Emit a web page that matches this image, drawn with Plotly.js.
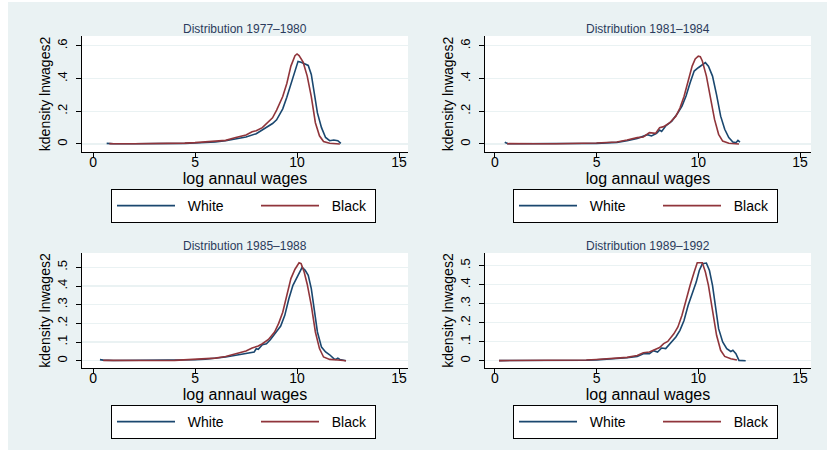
<!DOCTYPE html>
<html>
<head>
<meta charset="utf-8">
<script src="https://cdn.plot.ly/plotly-3.0.1.min.js"></script>
<style>html,body{margin:0;padding:0;background:#fff;}#chart{width:827px;height:455px;}</style>
</head>
<body>
<div id="chart"></div>
<script>
// ---------- Data ----------
const panelTitles = ["Distribution 1977–1980", "Distribution 1981–1984", "Distribution 1985–1988", "Distribution 1989–1992"];
const seriesNames = ["White", "Black"];
const xTickVals = [0, 5, 10, 15];
const xTickText = ["0", "5", "10", "15"];
const yTickValsTop = [0, 0.2, 0.4, 0.6];
const yTickTextTop = ["0", ".2", ".4", ".6"];
const yTickValsBottom = [0, 0.1, 0.2, 0.3, 0.4, 0.5];
const yTickTextBottom = ["0", ".1", ".2", ".3", ".4", ".5"];
const xTitle = "log annaul wages";
const yTitle = "kdensity lnwages2";

// 1977-1980
const white7780_x = [0.67, 1, 2, 3, 4, 4.5, 5, 5.5, 6, 6.5, 7, 7.5, 8, 8.5, 8.8, 9, 9.3, 9.5, 9.7, 9.9, 10.05, 10.2, 10.4, 10.55, 10.7, 10.85, 11.0, 11.2, 11.4, 11.6, 11.8, 12.0, 12.15];
const white7780_y = [0.004, 0.001, 0.001, 0.001, 0.002, 0.004, 0.006, 0.009, 0.012, 0.02, 0.03, 0.043, 0.063, 0.1, 0.125, 0.148, 0.215, 0.285, 0.36, 0.44, 0.505, 0.50, 0.49, 0.48, 0.425, 0.31, 0.19, 0.10, 0.04, 0.02, 0.024, 0.02, 0.004];
const black7780_x = [0.8, 1, 2, 3, 4, 4.5, 5, 5.5, 6, 6.5, 7, 7.5, 7.8, 8, 8.3, 8.5, 8.8, 9, 9.3, 9.5, 9.7, 9.9, 10, 10.1, 10.3, 10.5, 10.7, 10.9, 11.1, 11.3, 11.6, 12.1];
const black7780_y = [0.002, 0.001, 0.001, 0.001, 0.003, 0.005, 0.008, 0.012, 0.016, 0.022, 0.04, 0.055, 0.075, 0.081, 0.1, 0.126, 0.16, 0.207, 0.29, 0.37, 0.476, 0.54, 0.55, 0.54, 0.50, 0.415, 0.29, 0.13, 0.05, 0.015, 0.004, 0.0];

// 1981-1984
const white8184_x = [0.49, 0.55, 0.65, 1, 2, 3, 4, 4.5, 5, 5.5, 6, 6.5, 7, 7.5, 7.7, 7.95, 8.1, 8.2, 8.4, 8.7, 9.0, 9.2, 9.4, 9.6, 9.8, 10.0, 10.2, 10.35, 10.5, 10.7, 10.9, 11.1, 11.3, 11.5, 11.7, 11.85, 11.95, 12.05];
const white8184_y = [0.01, 0.008, 0.001, 0.001, 0.001, 0.001, 0.002, 0.003, 0.004, 0.007, 0.01, 0.02, 0.033, 0.057, 0.049, 0.065, 0.085, 0.077, 0.11, 0.14, 0.19, 0.232, 0.293, 0.374, 0.446, 0.466, 0.486, 0.497, 0.476, 0.415, 0.30, 0.17, 0.09, 0.039, 0.012, 0.008, 0.022, 0.012];
const black8184_x = [0.6, 1, 2, 3, 4, 4.5, 5, 5.5, 6, 6.5, 7, 7.3, 7.6, 7.9, 8.1, 8.3, 8.6, 8.9, 9.1, 9.3, 9.5, 9.7, 9.85, 10.0, 10.1, 10.2, 10.4, 10.6, 10.8, 11.0, 11.2, 11.5, 12.0];
const black8184_y = [0.002, 0.001, 0.001, 0.001, 0.002, 0.004, 0.006, 0.009, 0.012, 0.024, 0.039, 0.043, 0.069, 0.065, 0.1, 0.106, 0.13, 0.17, 0.22, 0.29, 0.385, 0.476, 0.52, 0.537, 0.533, 0.507, 0.415, 0.293, 0.15, 0.059, 0.018, 0.004, 0.0];

// 1985-1988
const white8588_x = [0.34, 0.5, 1, 2, 3, 4, 4.5, 5, 5.5, 6, 6.5, 7, 7.5, 7.9, 8.0, 8.1, 8.3, 8.5, 8.7, 9.0, 9.2, 9.4, 9.6, 9.8, 10.0, 10.15, 10.25, 10.4, 10.55, 10.7, 10.85, 11.0, 11.2, 11.4, 11.6, 11.8, 11.9, 12.0, 12.1, 12.4];
const white8588_y = [0.006, 0.003, 0.001, 0.001, 0.001, 0.002, 0.003, 0.005, 0.008, 0.012, 0.02, 0.029, 0.038, 0.047, 0.064, 0.061, 0.086, 0.091, 0.114, 0.154, 0.186, 0.243, 0.332, 0.404, 0.448, 0.484, 0.50, 0.484, 0.457, 0.386, 0.26, 0.154, 0.073, 0.047, 0.032, 0.011, 0.007, 0.014, 0.007, 0.0];
const black8588_x = [0.5, 1, 2, 3, 4, 4.5, 5, 5.5, 6, 6.5, 7, 7.3, 7.5, 7.8, 8.1, 8.3, 8.6, 8.9, 9.1, 9.3, 9.5, 9.7, 9.9, 10.1, 10.2, 10.35, 10.5, 10.7, 10.9, 11.1, 11.3, 11.6, 12.0, 12.4];
const black8588_y = [0.002, 0.001, 0.001, 0.001, 0.002, 0.004, 0.007, 0.01, 0.014, 0.023, 0.038, 0.05, 0.052, 0.068, 0.079, 0.091, 0.114, 0.154, 0.2, 0.26, 0.35, 0.44, 0.49, 0.525, 0.52, 0.475, 0.41, 0.296, 0.154, 0.065, 0.02, 0.007, 0.004, 0.0];

// 1989-1992
const white8992_x = [0.21, 1, 2, 3, 4, 4.5, 5, 5.5, 6, 6.5, 7, 7.3, 7.6, 7.8, 8.0, 8.2, 8.4, 8.6, 8.9, 9.1, 9.3, 9.5, 9.7, 9.9, 10.05, 10.2, 10.4, 10.55, 10.7, 10.85, 11.0, 11.2, 11.4, 11.6, 11.7, 11.85, 12.0, 12.33];
const white8992_y = [0.001, 0.001, 0.001, 0.001, 0.002, 0.003, 0.005, 0.008, 0.011, 0.016, 0.023, 0.037, 0.037, 0.053, 0.046, 0.067, 0.064, 0.09, 0.125, 0.16, 0.212, 0.291, 0.353, 0.414, 0.475, 0.51, 0.514, 0.475, 0.397, 0.274, 0.169, 0.099, 0.064, 0.049, 0.055, 0.037, 0.002, 0.0];
const black8992_x = [0.21, 1, 2, 3, 4, 4.5, 5, 5.5, 6, 6.5, 7, 7.3, 7.6, 7.9, 8.1, 8.3, 8.5, 8.8, 9.0, 9.2, 9.4, 9.6, 9.8, 9.95, 10.2, 10.35, 10.5, 10.7, 10.9, 11.1, 11.3, 11.6, 11.9];
const black8992_y = [0.001, 0.001, 0.001, 0.001, 0.002, 0.004, 0.007, 0.01, 0.014, 0.018, 0.028, 0.042, 0.046, 0.063, 0.07, 0.09, 0.102, 0.142, 0.178, 0.24, 0.326, 0.397, 0.467, 0.516, 0.516, 0.467, 0.397, 0.274, 0.134, 0.055, 0.023, 0.011, 0.004];

// ---------- Styling / layout ----------
const W = 827, H = 455;
const BLUE = '#1a476f', RED = '#90353b', BG = '#eaf2f3';
const FONT = 'Liberation Sans, Arial, Helvetica, sans-serif';
const NB = '\u00a0\u00a0';

const panels = [
  {wx: white7780_x, wy: white7780_y, bx: black7780_x, by: black7780_y, px: [82, 408], py: [36, 152], xr: [-0.54, 15.44], yr: [-0.049, 0.66], tv: yTickValsTop, tt: yTickTextTop, leg: [111, 189]},
  {wx: white8184_x, wy: white8184_y, bx: black8184_x, by: black8184_y, px: [485, 811], py: [36, 152], xr: [-0.48, 15.54], yr: [-0.049, 0.66], tv: yTickValsTop, tt: yTickTextTop, leg: [513, 189]},
  {wx: white8588_x, wy: white8588_y, bx: black8588_x, by: black8588_y, px: [82, 408], py: [253, 368], xr: [-0.54, 15.44], yr: [-0.039, 0.577], tv: yTickValsBottom, tt: yTickTextBottom, leg: [111, 405]},
  {wx: white8992_x, wy: white8992_y, bx: black8992_x, by: black8992_y, px: [485, 811], py: [253, 368], xr: [-0.48, 15.54], yr: [-0.038, 0.567], tv: yTickValsBottom, tt: yTickTextBottom, leg: [513, 405]}
];

const traces = [];
const layout = {
  width: W, height: H,
  margin: {l: 0, r: 0, t: 0, b: 0},
  paper_bgcolor: BG,
  plot_bgcolor: '#ffffff',
  font: {family: FONT, color: '#000'},
  showlegend: true,
  annotations: [],
  shapes: [
    {type: 'rect', xref: 'paper', yref: 'paper', x0: 0, x1: 8 / W, y0: 0, y1: 1, fillcolor: '#ffffff', line: {width: 0}, layer: 'below'},
    {type: 'rect', xref: 'paper', yref: 'paper', x0: 0, x1: 1, y0: 1 - 2 / H, y1: 1, fillcolor: '#ffffff', line: {width: 0}, layer: 'below'},
    {type: 'rect', xref: 'paper', yref: 'paper', x0: 0, x1: 1, y0: 0, y1: 5 / H, fillcolor: '#ffffff', line: {width: 0}, layer: 'below'}
  ]
};

panels.forEach((p, i) => {
  const n = i + 1;
  const xa = n === 1 ? 'x' : 'x' + n;
  const ya = n === 1 ? 'y' : 'y' + n;
  const legName = n === 1 ? 'legend' : 'legend' + n;
  traces.push({x: p.wx, y: p.wy, xaxis: xa, yaxis: ya, type: 'scatter', mode: 'lines', name: NB + seriesNames[0], legendwidth: 71, line: {color: BLUE, width: 1.6}, legend: legName, hoverinfo: 'skip'});
  traces.push({x: p.bx, y: p.by, xaxis: xa, yaxis: ya, type: 'scatter', mode: 'lines', name: NB + seriesNames[1], legendwidth: 46, line: {color: RED, width: 1.6}, legend: legName, hoverinfo: 'skip'});

  layout[n === 1 ? 'xaxis' : 'xaxis' + n] = {
    domain: [p.px[0] / W, p.px[1] / W], range: p.xr, anchor: ya,
    tickmode: 'array', tickvals: xTickVals, ticktext: xTickText,
    ticks: 'outside', ticklen: 5, tickwidth: 1, tickcolor: '#000', ticklabelstandoff: -8,
    showline: true, linecolor: '#000', linewidth: 1, mirror: false,
    showgrid: false, zeroline: false, automargin: false,
    tickfont: {size: 14, color: '#000'},
    title: {text: xTitle, font: {size: 16, color: '#000'}, standoff: 0}
  };
  layout[n === 1 ? 'yaxis' : 'yaxis' + n] = {
    domain: [1 - p.py[1] / H, 1 - p.py[0] / H], range: p.yr, anchor: xa,
    tickmode: 'array', tickvals: p.tv, ticktext: p.tt, tickangle: -90,
    ticks: 'outside', ticklen: 5, tickwidth: 1, tickcolor: '#000', ticklabelstandoff: 4,
    showline: true, linecolor: '#000', linewidth: 1, mirror: false,
    showgrid: true, gridcolor: BG, gridwidth: 1.2, zeroline: false, automargin: false,
    tickfont: {size: 13, color: '#000'},
    title: {text: yTitle, font: {size: 14, color: '#000'}, standoff: 0}
  };
  layout[legName] = {
    x: p.leg[0] / W, y: 1 - p.leg[1] / H, xanchor: 'left', yanchor: 'top',
    orientation: 'h', bgcolor: '#ffffff', bordercolor: '#000', borderwidth: 1,
    font: {size: 14, color: '#000'}, itemwidth: 58, traceorder: 'normal'
  };
  layout.annotations.push({
    text: panelTitles[i], xref: 'paper', yref: 'paper', showarrow: false,
    x: (p.px[0] + p.px[1]) / 2 / W, y: 1 - (p.py[0] - 7) / H, xanchor: 'center', yanchor: 'middle',
    font: {size: 12, color: '#2b3b5c', family: FONT}
  });
});

Plotly.newPlot('chart', traces, layout, {staticPlot: true, displayModeBar: false});
</script>
</body>
</html>
